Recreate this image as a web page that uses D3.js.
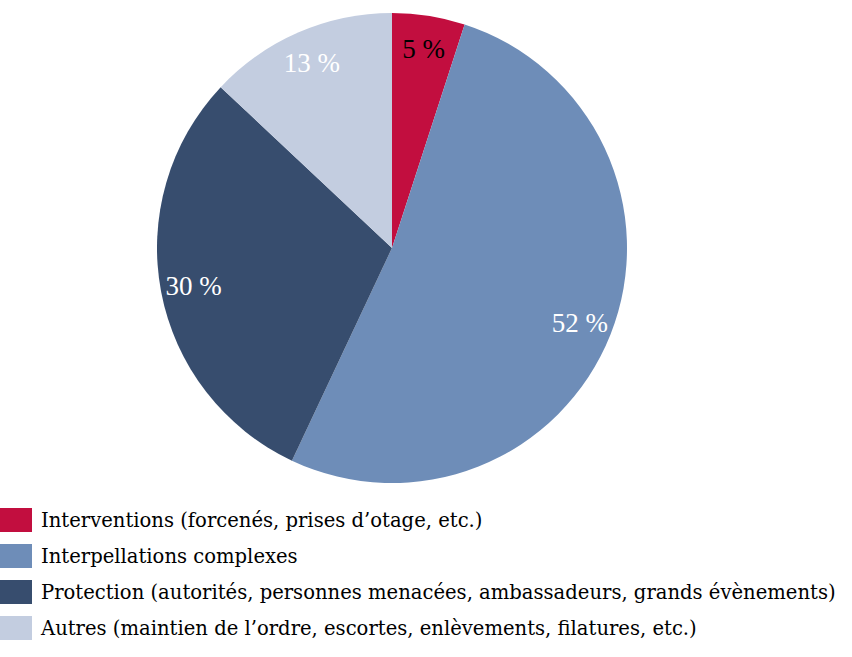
<!DOCTYPE html>
<html><head><meta charset="utf-8">
<script src="https://cdn.jsdelivr.net/npm/d3@7"></script>
<style>body{margin:0;background:#fff}svg{display:block}</style>
</head><body>
<svg id="c" width="852" height="657"></svg>
<script>
const categories = [
  "Interventions (forcenés, prises d’otage, etc.)",
  "Interpellations complexes",
  "Protection (autorités, personnes menacées, ambassadeurs, grands évènements)",
  "Autres (maintien de l’ordre, escortes, enlèvements, filatures, etc.)"
];
const values = [5, 52, 30, 13];
const labels = ["5 %", "52 %", "30 %", "13 %"];
const colors = ["#C20E3F", "#6E8DB8", "#374D6E", "#C3CDE0"];
const labelColors = ["#000000", "#ffffff", "#ffffff", "#ffffff"];

const svg = d3.select("#c");
const cx = 392, cy = 248, R = 235;
const font = "'DejaVu Serif', 'Liberation Serif', serif";
const labelFont = "'Liberation Serif', 'DejaVu Serif', serif";

const pie = d3.pie().sort(null).value(d => d)(values);
const arc = d3.arc().innerRadius(0).outerRadius(R);
const labelArc = d3.arc().innerRadius(202).outerRadius(202);

const g = svg.append("g").attr("transform", `translate(${cx},${cy})`);
g.selectAll("path").data(pie).join("path")
  .attr("d", arc).attr("fill", (d, i) => colors[i]);

g.selectAll("text").data(pie).join("text")
  .attr("transform", d => `translate(${labelArc.centroid(d)})`)
  .attr("text-anchor", "middle").attr("dy", "0.35em")
  .attr("font-family", labelFont).attr("font-size", 27)
  .attr("fill", (d, i) => labelColors[i])
  .text((d, i) => labels[i]);

const leg = svg.append("g");
const rows = leg.selectAll("g").data(categories).join("g")
  .attr("transform", (d, i) => `translate(0,${508 + i * 36})`);
rows.append("rect").attr("x", 0).attr("y", 0).attr("width", 32).attr("height", 24)
  .attr("fill", (d, i) => colors[i]);
const lt = rows.append("text").attr("x", 41).attr("y", 12).attr("dy", "0.35em")
  .attr("font-family", font).attr("font-size", 19).attr("fill", "#000")
  .text(d => d);
// fit widest legend line to the reference width
const w = lt.nodes()[2].getComputedTextLength();
lt.attr("font-size", 19 * 795 / w);
</script>
</body></html>
